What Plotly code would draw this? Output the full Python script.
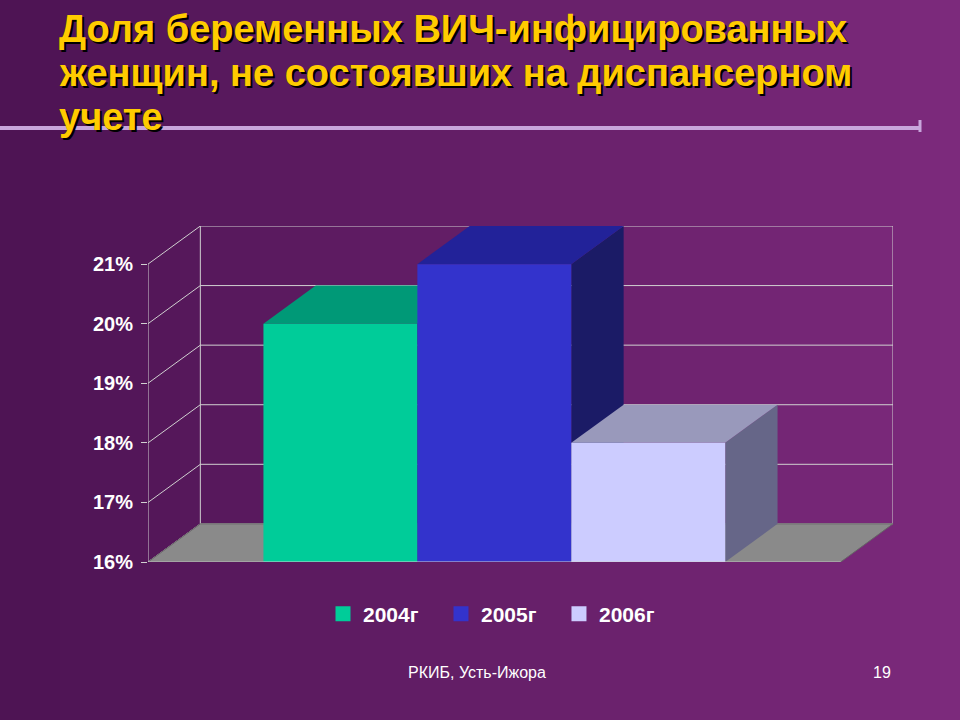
import plotly.graph_objects as go

years = ["2004г", "2005г", "2006г"]
values = [20.0, 21.0, 18.0]
front_colors = ["#00CC99", "#3333CC", "#CCCCFF"]
top_colors = ["#009977", "#222299", "#9999BB"]
side_colors = ["#005544", "#1B1B66", "#666688"]
tick_vals = [16, 17, 18, 19, 20, 21]
tick_text = ["16%", "17%", "18%", "19%", "20%", "21%"]

base = 16
dx, dy = 0.34, 0.64   # depth offset in axis units
x0, x1 = -1.25, 3.25  # front axis extent
L, R, T, B = 148, 67, 226, 158
W, H = 960 - L - R, 720 - T - B

def px(x):  # pixel -> paper
    return (x - L) / W

def py(y):
    return (720 - B - y) / H

fig = go.Figure()

# background gradient (dark left -> lighter right)
n = 48
for k in range(n):
    f = k / (n - 1)
    c = "rgb(%d,%d,%d)" % (78 + 46 * f, 20 + 22 * f, 84 + 40 * f)
    fig.add_shape(type="rect", xref="paper", yref="paper", x0=px(960 * k / n), x1=px(960 * (k + 1) / n + 1),
                  y0=py(720), y1=py(0), fillcolor=c, line=dict(width=0), layer="below")

# floor
fig.add_trace(go.Scatter(
    x=[x0, x1, x1 + dx, x0 + dx, x0], y=[base, base, base + dy, base + dy, base],
    fill="toself", fillcolor="#8a8a8a", mode="lines", line=dict(color="#666", width=1),
    hoverinfo="skip", showlegend=False))

# bars: side, top, front, left to right
for i, (yr, v) in enumerate(zip(years, values)):
    l, r = i - 0.5, i + 0.5
    fig.add_trace(go.Scatter(
        x=[r, r + dx, r + dx, r, r], y=[base, base + dy, v + dy, v, base],
        fill="toself", fillcolor=side_colors[i], mode="lines", line=dict(width=0),
        hoverinfo="skip", showlegend=False))
    fig.add_trace(go.Scatter(
        x=[l, r, r + dx, l + dx, l], y=[v, v, v + dy, v + dy, v],
        fill="toself", fillcolor=top_colors[i], mode="lines", line=dict(width=0),
        hoverinfo="skip", showlegend=False))
    fig.add_trace(go.Scatter(
        x=[l, r, r, l, l], y=[base, base, v, v, base],
        fill="toself", fillcolor=front_colors[i], mode="lines", line=dict(width=0),
        hoverinfo="skip", showlegend=False))
    # legend entry
    fig.add_trace(go.Scatter(
        x=[None], y=[None], mode="markers", name="<b>" + yr + "</b>",
        marker=dict(symbol="square", size=15, color=front_colors[i])))

# walls and gridlines
grid = dict(color="#d0d0d0", width=1)
for t in tick_vals:
    fig.add_shape(type="line", x0=x0 + dx, x1=x1 + dx, y0=t + dy, y1=t + dy, line=grid, layer="below")
    fig.add_shape(type="line", x0=x0, x1=x0 + dx, y0=t, y1=t + dy, line=grid, layer="below")
for xx in [x0 + dx, x1 + dx]:
    fig.add_shape(type="line", x0=xx, x1=xx, y0=base + dy, y1=tick_vals[-1] + dy, line=grid, layer="below")
fig.add_shape(type="line", x0=x0, x1=x0, y0=base, y1=tick_vals[-1], line=grid)
fig.add_shape(type="line", x0=x0, x1=x1, y0=base, y1=base, line=grid)

# title with shadow
title_lines = ["Доля беременных ВИЧ-инфицированных", "женщин, не состоявших на диспансерном", "учете"]
for k, line in enumerate(title_lines):
    for off, col in [(2, "#000000"), (0, "#FFCC00")]:
        fig.add_annotation(x=px(57 + off), y=py(29 + 44 * k + off), xref="paper", yref="paper",
                           text="<b>" + line + "</b>", showarrow=False, xanchor="left",
                           yanchor="middle", font=dict(family="Arial", size=38, color=col))
fig.add_shape(type="line", xref="paper", yref="paper", x0=px(0), x1=px(920),
              y0=py(128), y1=py(128), line=dict(color="#c8a6dc", width=4))
fig.add_shape(type="line", xref="paper", yref="paper", x0=px(920), x1=px(920),
              y0=py(120), y1=py(132), line=dict(color="#c8a6dc", width=3))

fig.add_annotation(x=px(477), y=py(672), xref="paper", yref="paper", text="РКИБ, Усть-Ижора",
                   showarrow=False, yanchor="middle", font=dict(family="Arial", size=16, color="white"))
fig.add_annotation(x=px(893), y=py(672), xref="paper", yref="paper", text="19",
                   showarrow=False, yanchor="middle", font=dict(family="Arial", size=16, color="white"))

fig.update_layout(
    width=960, height=720,
    margin=dict(l=L, r=R, t=T, b=B),
    paper_bgcolor="#5f1d5d", plot_bgcolor="rgba(0,0,0,0)",
    xaxis=dict(range=[x0, x1 + dx], visible=False, fixedrange=True),
    yaxis=dict(range=[base, tick_vals[-1] + dy], tickvals=tick_vals,
               ticktext=["<b>" + s + "</b>" for s in tick_text],
               showgrid=False, zeroline=False, ticks="outside", ticklen=6, tickcolor="#d0d0d0",
               tickfont=dict(family="Arial", size=20, color="white"), ticklabelstandoff=4),
    legend=dict(orientation="h", x=px(500), xanchor="center", y=py(614), yanchor="middle",
                bgcolor="rgba(0,0,0,0)", tracegroupgap=0, itemwidth=30,
                font=dict(family="Arial", size=21, color="white")),
    font=dict(family="Arial"),
)
for tr in fig.data:
    if tr.name:
        tr.name = tr.name + "&nbsp;&nbsp;&nbsp;"

fig.write_html("out.html", config={"displayModeBar": False},
               post_script="document.body.style.margin='0';")
